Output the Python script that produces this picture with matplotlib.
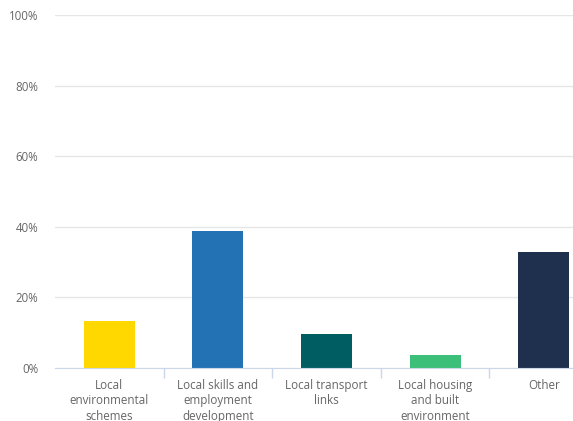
import matplotlib.pyplot as plt
from matplotlib.ticker import FixedLocator

categories = [
    "Local\nenvironmental\nschemes",
    "Local skills and\nemployment\ndevelopment",
    "Local transport\nlinks",
    "Local housing\nand built\nenvironment",
    "Other",
]
values = [13.3, 38.8, 9.6, 3.7, 32.9]
colors = ["#FFD800", "#2272B4", "#005E62", "#3CBF78", "#1F2F4E"]
yticks = [0, 20, 40, 60, 80, 100]

W, H = 573, 421
plt.rcParams["font.family"] = ["Open Sans", "DejaVu Sans"]
fig = plt.figure(figsize=(W / 100, H / 100), dpi=100)
# plot area runs past the right edge of the picture, as in the reference
ax = fig.add_axes([55 / W, (H - 368) / H, 543 / W, 353 / H])

x = range(len(categories))
ax.bar(x, values, width=0.47, color=colors, zorder=3)

ax.set_xlim(-0.5, len(categories) - 0.5)
ax.set_ylim(0, 100)
ax.set_yticks(yticks)
ax.set_yticklabels([f"{v}%" for v in yticks])
ax.yaxis.grid(True, color="#e6e6e6", linewidth=1, zorder=0)
ax.tick_params(axis="y", length=0, pad=12, labelsize=8.3, labelcolor="#666666")

ax.set_xticks(list(x))
ax.set_xticklabels(categories, linespacing=1.22)
ax.tick_params(axis="x", which="major", length=0, pad=8, labelsize=8.4, labelcolor="#666666")
ax.xaxis.set_minor_locator(FixedLocator([i + 0.5 for i in range(len(categories) - 1)]))
ax.tick_params(axis="x", which="minor", length=7.2, width=1, color="#ccd6eb")

for side in ["top", "right", "left"]:
    ax.spines[side].set_visible(False)
ax.spines["bottom"].set_color("#ccd6eb")
ax.spines["bottom"].set_zorder(4)

fig.savefig("out.png", dpi=100)
